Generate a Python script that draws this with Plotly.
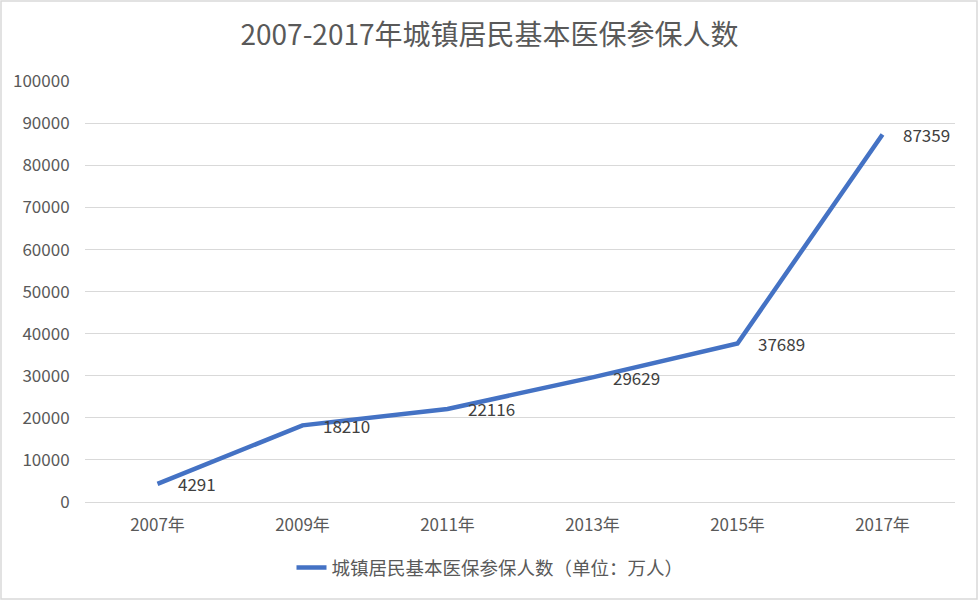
import plotly.graph_objects as go

years = ["2007年", "2009年", "2011年", "2013年", "2015年", "2017年"]
values = [4291, 18210, 22116, 29629, 37689, 87359]
y_ticks = [0, 10000, 20000, 30000, 40000, 50000, 60000, 70000, 80000, 90000, 100000]
series_name = "城镇居民基本医保参保人数（单位：万人）"
title_text = "2007-2017年城镇居民基本医保参保人数"

W, H = 979, 601
ML, MR, MT, MB = 85, 24, 81, 99
PW, PH = W - ML - MR, H - MT - MB

FONT = "Noto Sans CJK SC, Noto Sans, sans-serif"

fig = go.Figure()
fig.add_trace(go.Scatter(
    x=years, y=values, mode="lines", name=series_name,
    line=dict(color="#4472C4", width=4.5),
    hoverinfo="skip",
))

for xv, yv in zip(years, values):
    fig.add_annotation(x=xv, y=yv, text=str(yv), showarrow=False,
                       xanchor="left", yanchor="middle", xshift=18,
                       font=dict(family=FONT, size=17, color="#404040"))

fig.add_shape(type="rect", xref="paper", yref="paper",
              x0=-(ML - 1) / PW, x1=1 + (MR - 2) / PW,
              y0=-(MB - 2) / PH, y1=1 + (MT - 1) / PH,
              line=dict(color="#d9d9d9", width=1.5), fillcolor="rgba(0,0,0,0)",
              layer="below")

fig.update_layout(
    width=W, height=H,
    margin=dict(l=ML, r=MR, t=MT, b=MB),
    paper_bgcolor="white", plot_bgcolor="white",
    title=dict(text=title_text, x=0.5, xref="container", xanchor="center",
               y=1 - 35 / H, yref="container", yanchor="middle",
               font=dict(family=FONT, size=28, color="#595959")),
    showlegend=True,
    legend=dict(orientation="h", x=490 / W, xref="container", xanchor="center",
                y=(H - 568) / H, yref="container", yanchor="middle",
                font=dict(family=FONT, size=18.5, color="#595959"),
                bgcolor="rgba(0,0,0,0)"),
    xaxis=dict(type="category", range=[-0.5, 5.5], showgrid=False,
               showline=True, linecolor="#d9d9d9", linewidth=1, zeroline=False,
               ticks="outside", ticklen=8, tickcolor="rgba(0,0,0,0)",
               tickfont=dict(family=FONT, size=17, color="#595959")),
    yaxis=dict(range=[0, 100060], tickvals=y_ticks,
               ticktext=[str(v) for v in y_ticks], showgrid=True,
               gridcolor="#d9d9d9", gridwidth=1, zeroline=False, showline=False,
               ticks="outside", ticklen=11, tickcolor="rgba(0,0,0,0)",
               tickfont=dict(family=FONT, size=17, color="#595959")),
)

fig.write_html("out.html")
